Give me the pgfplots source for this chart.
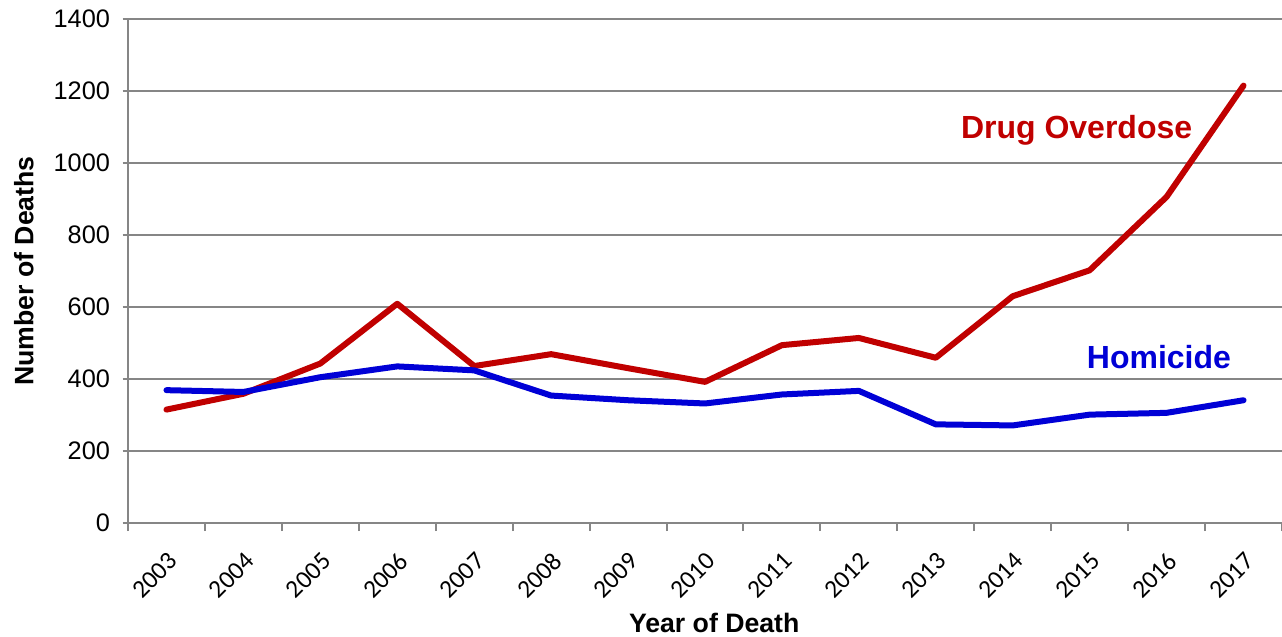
\documentclass[border=0pt]{standalone}
\usepackage{fontspec}
\setmainfont{Liberation Sans}
\newfontfamily\calib{Carlito}
\usepackage{pgfplots}
\pgfplotsset{compat=1.18}

\definecolor{odred}{RGB}{192,0,0}
\definecolor{homblue}{RGB}{0,0,214}
\definecolor{axgray}{RGB}{134,134,134}

\begin{document}
\begin{tikzpicture}
\begin{axis}[
    scale only axis,
    width=865.5pt, height=378pt,
    xmin=-0.5, xmax=14.5,
    ymin=0, ymax=1400,
    axis x line*=bottom,
    axis y line*=left,
    axis line style={axgray, line width=1.5pt},
    xtick={0,...,14},
    xticklabels={2003,2004,2005,2006,2007,2008,2009,2010,2011,2012,2013,2014,2015,2016,2017},
    minor xtick={-0.5,0.5,...,14.5},
    major x tick style={draw=none},
    minor x tick style={axgray, line width=1.5pt},
    minor tick length=6pt,
    ytick={0,200,...,1400},
    major y tick style={axgray, line width=1.5pt},
    major tick length=4pt,
    tick align=outside,
    ymajorgrids,
    grid style={axgray, line width=1.5pt},
    xticklabel style={xshift=-9pt, yshift=-35.25pt, rotate=45, anchor=center, font=\calib\fontsize{19}{22}\selectfont},
    yticklabel style={font=\fontsize{19}{22}\selectfont, xshift=-6pt},
    /pgf/number format/assume math mode=true,
    /pgf/number format/1000 sep={},
    xlabel={\textbf{Year of Death}},
    ylabel={\textbf{Number of Deaths}},
    xlabel style={font=\fontsize{20}{24}\selectfont, at={(axis description cs:0.508,-0.198)}, anchor=center},
    ylabel style={font=\fontsize{20}{24}\selectfont, at={(axis description cs:-0.0903,0.5)}, anchor=center},
    clip=false,
]
\addplot[odred, line width=4.5pt, line cap=round, line join=round] coordinates {
    (0,315) (1,359) (2,443) (3,609) (4,436) (5,469) (6,430) (7,392)
    (8,494) (9,514) (10,459) (11,630) (12,702) (13,906) (14,1215)
};
\addplot[homblue, line width=4.5pt, line cap=round, line join=round] coordinates {
    (0,369) (1,364) (2,405) (3,435) (4,424) (5,354) (6,341) (7,332)
    (8,357) (9,367) (10,274) (11,271) (12,301) (13,306) (14,341)
};
\node[text=odred, font=\bfseries\fontsize{24}{28}\selectfont] at (axis cs:11.83,1091) {Drug Overdose};
\node[text=homblue, font=\bfseries\fontsize{24}{28}\selectfont] at (axis cs:12.9,461) {Homicide};
\coordinate (ll) at (rel axis cs:0,0);
\coordinate (ur) at (rel axis cs:1,1);
\end{axis}
\pgfresetboundingbox
\path[use as bounding box] ([shift={(-96pt,-84.75pt)}]ll) rectangle ([shift={(0pt,14.25pt)}]ur);
\end{tikzpicture}
\end{document}
